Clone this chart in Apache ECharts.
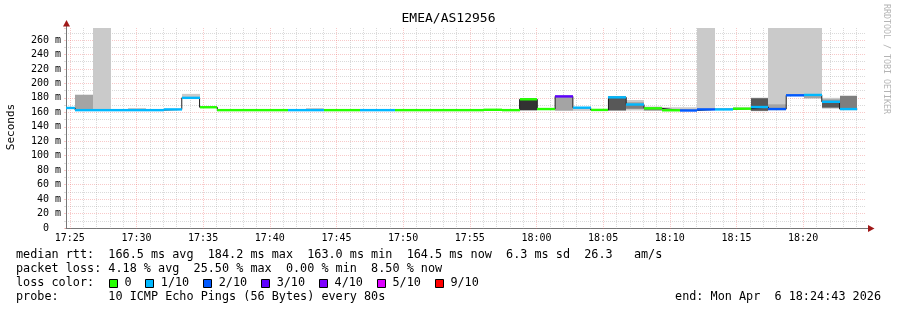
<!DOCTYPE html>
<html><head><meta charset="utf-8">
<script src="https://cdn.jsdelivr.net/npm/echarts@6/dist/echarts.min.js"></script>
<style>html,body{margin:0;padding:0;background:#fff}#c{width:897px;height:310px}</style>
</head><body><div id="c"></div>
<script>
// ---------- data ----------
const TITLE = 'EMEA/AS12956';
const START_TIME = '17:24:43';
const SPAN_SECONDS = 3600;
const STEP_SECONDS = 80;
const FIRST_STEP_END = 41;           // seconds after START_TIME where the first 80 s step ends
const TICK_LABELS = ['17:25','17:30','17:35','17:40','17:45','17:50','17:55','18:00','18:05','18:10','18:15','18:20'];
const Y_TICKS = [0,20,40,60,80,100,120,140,160,180,200,220,240,260];
const Y_MAX = 276.6;
const LOSS_LABELS = ['0','1/10','2/10','3/10','4/10','5/10','9/10'];
const LOSS_COLORS = ['#26ff00','#00b8ff','#0059ff','#5e00ff','#7e00ff','#dd00ff','#ff0000'];

const MEDIAN = [166,163,163,163,163,163,164,180,167,
  163,163,163,163,163,163,163,163,163,163,163,163,163,163,163,
  163.5,163,178,164.5,182,166.4,163.3,180.7,170.8,165.5,162.8,162.5,164,164,165,167.3,164.5,183.5,184,174.5,164.5];
const LOSS = [1,1,1,1,1,1,1,1,0,0,0,0,0,1,1,0,0,1,1,0,0,0,0,0,0,0,0,0,3,1,0,1,1,0,0,2,2,1,0,1,2,2,1,1,1];
// 10 sorted ping round-trip times (ms) per step
const PINGS = [
  [165.5,165.6,165.8,165.9,166,166,166.1,166.2,166.3,166.5],
  [162.8,163,163,163,163,163.2,163.5,164.5,184,184.5],
  [162.8,163,163,163,163,163.2,163.5,164,164.5,320],
  [162.5,162.8,163,163,163,163,163.2,163.3,163.5,164],
  [162.5,162.8,163,163,163,163,163.2,163.5,164,166],
  [162.5,162.8,163,163,163,163,163.2,163.3,163.5,164],
  [163.3,163.5,163.8,163.9,164,164,164.1,164.3,164.5,164.8],
  [179.3,179.5,179.8,179.9,180,180,180.2,180.5,181,185.5],
  [166.3,166.5,166.8,166.9,167,167,167.2,167.4,167.6,168],
  [162.5,162.8,163,163,163,163,163.2,163.3,163.5,164],
  [162.5,162.8,163,163,163,163,163.2,163.3,163.5,164],
  [162.5,162.8,163,163,163,163,163.2,163.3,163.5,164],
  [162.5,162.8,163,163,163,163,163.2,163.3,163.5,164],
  [162.5,162.8,163,163,163,163,163.2,163.3,163.5,164],
  [162.5,162.8,163,163,163,163,163.2,163.5,164,166],
  [162.5,162.8,163,163,163,163,163.2,163.3,163.5,164],
  [162.5,162.8,163,163,163,163,163.2,163.3,163.5,164],
  [162.5,162.8,163,163,163,163,163.2,163.3,163.5,164],
  [162.5,162.8,163,163,163,163,163.2,163.3,163.5,164],
  [162.5,162.8,163,163,163,163,163.2,163.3,163.5,164],
  [162.5,162.8,163,163,163,163,163.2,163.3,163.5,164],
  [162.5,162.8,163,163,163,163,163.2,163.3,163.5,164],
  [162.5,162.8,163,163,163,163,163.2,163.3,163.5,164],
  [162.5,162.8,163,163,163,163,163.2,163.3,163.5,164],
  [163,163.2,163.4,163.5,163.5,163.5,163.6,163.7,163.8,164],
  [162.5,162.8,163,163,163,163,163.2,163.3,163.5,164],
  [162.5,162.8,163,163,163.2,178,178.5,179,179,179.5],
  [164,164.2,164.3,164.4,164.5,164.5,164.6,164.7,164.8,165],
  [162,162.5,181.5,181.8,182,182,182.2,182.5,182.5,183],
  [162,165.5,166,166,166.3,166.4,166.5,166.5,166.8,167],
  [162.8,163,163.1,163.2,163.3,163.3,163.4,163.5,163.6,163.8],
  [162,162.5,162.8,163,180,180.7,181,181.5,182,182],
  [162.5,165,165,170.5,170.8,170.8,171,171,174,177],
  [162,162.5,163,165,165.3,165.5,165.8,166,166.5,168],
  [162.3,162.5,162.6,162.7,162.8,162.8,163,163.2,163.5,167],
  [162,162.2,162.3,162.4,162.5,162.5,162.7,163,163.5,167],
  [163.3,163.5,163.7,163.9,164,164,164.2,164.5,165,320],
  [163.5,163.6,163.8,163.9,164,164,164.2,164.4,164.8,166],
  [164.3,164.5,164.7,164.9,165,165,165.2,165.4,165.8,167],
  [161.5,162,162,162.5,167,167.3,179,179.5,180,180],
  [163,163.5,164,164.2,164.5,164.5,165,166,171,320],
  [183,183.2,183.3,183.4,183.5,183.5,183.6,183.8,184,320],
  [179,179.5,183.5,183.8,184,184,184.2,184.5,185,320],
  [165,166,166.5,167,174,174.5,175,176,178,180],
  [163,163.5,164,164.2,164.4,164.5,164.8,182.5,182.8,183]
];
const STAT_LINES = [
  'median rtt:  166.5 ms avg  184.2 ms max  163.0 ms min  164.5 ms now  6.3 ms sd  26.3   am/s',
  'packet loss: 4.18 % avg  25.50 % max  0.00 % min  8.50 % now'
];
const PROBE_LINE = 'probe:       10 ICMP Echo Pings (56 Bytes) every 80s';
const END_LINE = 'end: Mon Apr  6 18:24:43 2026';
const WATERMARK = 'RRDTOOL / TOBI OETIKER';

// ---------- helpers ----------
const FONT = 'DejaVu Sans Mono';
const LEGEND_FONT = '11.8px ' + FONT;
function toSec(s){ const p = s.split(':').map(Number); return p[0]*3600 + p[1]*60 + (p[2]||0); }
const START_SEC = toSec(START_TIME);
function stepSpan(k){
  const t1 = FIRST_STEP_END + k*STEP_SECONDS;
  return [Math.max(0, t1-STEP_SECONDS), Math.min(SPAN_SECONDS, t1)];
}
function lossColor(l){ return LOSS_COLORS[Math.min(l, 6)]; }
function smokeShade(i){ const g = Math.floor(190/5*(5-i))+50; const h = g.toString(16).padStart(2,'0'); return '#'+h+h+h; }

// minute grid
const minuteGrid = [];
for (let s = Math.ceil(START_SEC/60)*60; s <= START_SEC+SPAN_SECONDS; s += 60) {
  minuteGrid.push([s-START_SEC, (s/60)%5===0 ? 1 : 0]);
}
const labelData = TICK_LABELS.map((l,i)=>[toSec(l)-START_SEC, i]);

const smokeData = [];
PINGS.forEach((p,k)=>{ for (let i=1;i<=5;i++) smokeData.push([k,i]); });
const stepLine = [];
MEDIAN.forEach((m,k)=>{ const sp = stepSpan(k); stepLine.push([sp[0], m]); stepLine.push([sp[1], m]); });
const medData = MEDIAN.map((m,k)=>[k, m, LOSS[k]]);

const chart = echarts.init(document.getElementById('c'), null, {renderer:'canvas', width:897, height:310});

const RED_GRID = 'rgba(235,90,90,0.33)';
const GREY_GRID = 'rgba(150,150,150,0.35)';

const graphics = [
  {type:'text', x:448.5, y:19, style:{text:TITLE, font:'13px '+FONT, fill:'#000', align:'center', verticalAlign:'middle'}},
  {type:'text', x:11, y:127, rotation:Math.PI/2, style:{text:'Seconds', font:'11px '+FONT, fill:'#000', align:'center', verticalAlign:'middle'}},
  {type:'text', x:886, y:59, rotation:-Math.PI/2, style:{text:WATERMARK, font:'8.3px '+FONT, fill:'#b4b4b4', align:'center', verticalAlign:'middle'}},
  {type:'line', shape:{x1:66.5,y1:28,x2:66.5,y2:24}, style:{stroke:'#777', lineWidth:1}},
  {type:'polygon', shape:{points:[[63,26.5],[70,26.5],[66.5,20]]}, style:{fill:'#a01818'}},
  {type:'line', shape:{x1:866,y1:228.5,x2:869,y2:228.5}, style:{stroke:'#777', lineWidth:1}},
  {type:'polygon', shape:{points:[[868,225],[868,232],[874.5,228.5]]}, style:{fill:'#a01818'}},
  {type:'text', x:16, y:254.5, style:{text:STAT_LINES[0], font:LEGEND_FONT, fill:'#000', verticalAlign:'middle'}},
  {type:'text', x:16, y:268.5, style:{text:STAT_LINES[1], font:LEGEND_FONT, fill:'#000', verticalAlign:'middle'}},
  {type:'text', x:16, y:282.5, style:{text:'loss color:', font:LEGEND_FONT, fill:'#000', verticalAlign:'middle'}},
  {type:'text', x:16, y:296.5, style:{text:PROBE_LINE, font:LEGEND_FONT, fill:'#000', verticalAlign:'middle'}},
  {type:'text', x:881, y:296.5, style:{text:END_LINE, font:LEGEND_FONT, fill:'#000', align:'right', verticalAlign:'middle'}}
];
// loss colour legend, laid out on character columns
const CW = 7.24;
let col = 13;
LOSS_LABELS.forEach((lab,j)=>{
  const x = 16 + col*CW;
  graphics.push({type:'rect', shape:{x:Math.round(x)-0.5, y:279.5, width:8, height:8}, style:{fill:LOSS_COLORS[j], stroke:'#000', lineWidth:1}});
  graphics.push({type:'text', x:16+(col+2)*CW, y:282.5, style:{text:lab, font:LEGEND_FONT, fill:'#000', verticalAlign:'middle'}});
  col += 2 + lab.length + 2;
});

chart.setOption({
  animation:false,
  backgroundColor:'#fff',
  grid:{left:66, top:28, width:800, height:200, containLabel:false},
  xAxis:{type:'value', min:0, max:SPAN_SECONDS,
    axisLine:{show:true, onZero:false, lineStyle:{color:'#777', width:1}},
    axisTick:{show:false}, axisLabel:{show:false}, splitLine:{show:false}},
  yAxis:{type:'value', min:0, max:Y_MAX, interval:20,
    axisLine:{show:true, lineStyle:{color:'#777', width:1}},
    axisTick:{show:true, length:2, lineStyle:{color:RED_GRID}},
    minorTick:{show:true, splitNumber:2, length:2, lineStyle:{color:GREY_GRID}},
    axisLabel:{margin:5, fontFamily:FONT, fontSize:10, color:'#000', showMaxLabel:true,
      formatter:v=>{ if (!Y_TICKS.includes(Math.round(v*1000)/1000)) return ''; return v===0 ? '0  ' : v+' m'; }},
    splitLine:{show:true, showMinLine:false, showMaxLine:false, lineStyle:{color:RED_GRID, width:1, type:[1,1]}},
    minorSplitLine:{show:true, lineStyle:{color:GREY_GRID, width:1, type:[1,1]}}},
  graphic:graphics,
  series:[
    {type:'custom', z:1, silent:true, data:minuteGrid,
      renderItem:(params, api)=>{
        const t = api.value(0), major = api.value(1);
        const a = api.coord([t, Y_MAX]), b = api.coord([t, 0]);
        const x = Math.round(a[0]) + 0.5;
        return {type:'line', shape:{x1:x, y1:a[1], x2:x, y2:b[1]+2},
          style:{stroke: major ? RED_GRID : GREY_GRID, lineWidth:1, lineDash:[1,1]}};
      }},
    {type:'custom', z:1, silent:true, data:labelData,
      renderItem:(params, api)=>{
        const t = api.value(0), i = api.value(1);
        const p = api.coord([t, 0]);
        return {type:'text', x:p[0], y:p[1]+10, style:{text:TICK_LABELS[i], font:'10px '+FONT, fill:'#000', align:'center', verticalAlign:'middle'}};
      }},
    {type:'custom', z:2, silent:true, data:smokeData,
      renderItem:(params, api)=>{
        const k = api.value(0), i = api.value(1);
        const p = PINGS[k];
        const lo = p[i-1], hi = p[10-i];
        if (lo == null || hi == null) return null;
        const sp = stepSpan(k);
        const a = api.coord([sp[0], Math.min(hi, Y_MAX)]);
        const b = api.coord([sp[1], Math.max(lo, 0)]);
        const x0 = Math.round(a[0]), x1 = Math.round(b[0]);
        return {type:'rect', shape:{x:x0, y:a[1], width:x1-x0, height:b[1]-a[1]}, style:{fill:smokeShade(i)}};
      }},
    {type:'line', z:3, silent:true, data:stepLine, showSymbol:false, symbol:'none',
      lineStyle:{color:'#202020', width:1}},
    {type:'custom', z:4, silent:true, data:medData,
      renderItem:(params, api)=>{
        const k = api.value(0), m = api.value(1), l = api.value(2);
        const sp = stepSpan(k);
        const a = api.coord([sp[0], m]), b = api.coord([sp[1], m]);
        return {type:'line', shape:{x1:Math.round(a[0]), y1:a[1], x2:Math.round(b[0]), y2:b[1]},
          style:{stroke:lossColor(l), lineWidth:2.4, lineCap:'butt'}};
      }}
  ]
});
</script>
</body></html>
